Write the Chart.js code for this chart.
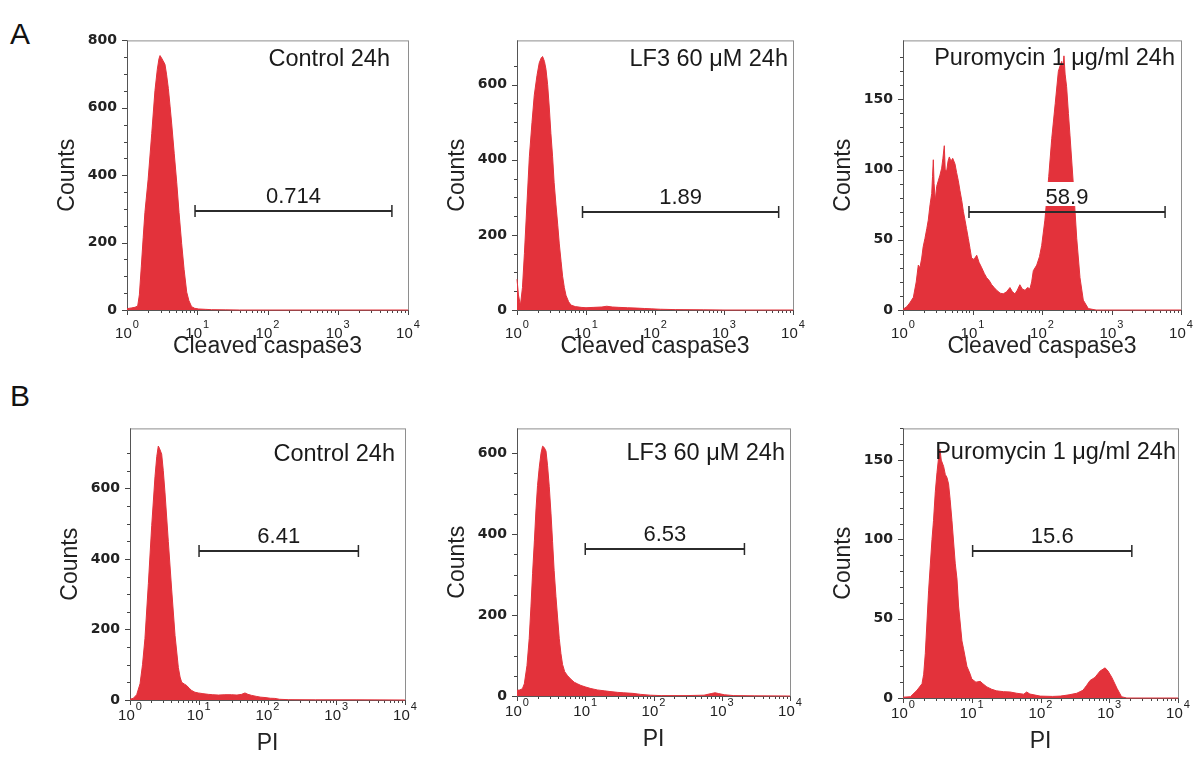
<!DOCTYPE html>
<html>
<head>
<meta charset="utf-8">
<script src="https://cdn.jsdelivr.net/npm/chart.js@4.4.1/dist/chart.umd.min.js"></script>
<style>
  html, body { margin: 0; padding: 0; background: #fff; }
  #fig { position: relative; width: 1203px; height: 758px; overflow: hidden; background: #fff; }
  #fig canvas { position: absolute; }
  .tag { position: absolute; font: 30px 'Liberation Sans', Arial, sans-serif; line-height: 30px; color: #111; }
</style>
</head>
<body>
<div id="fig">
  <div class="tag" style="left:10px;top:19px">A</div>
  <div class="tag" style="left:10px;top:381px">B</div>
</div>
<script>
// ---- Histogram data: fluorescence channel (log axis) and event counts ----

// A: cleaved caspase3, control 24h
const ctlCasChannels = [1, 1.15, 1.3, 1.42, 1.5, 1.6, 1.7, 1.8, 2.0, 2.25, 2.5, 2.7, 2.85, 2.95, 3.1, 3.25, 3.47, 3.65, 3.88, 4.1, 4.33, 4.7, 5.1, 5.5, 6.0, 6.5, 7.08, 7.6, 8.3, 9.2, 10.5, 13, 16, 25, 40, 10000];
const ctlCasCounts   = [4, 6, 8, 12, 45, 130, 215, 290, 388, 524, 651, 714, 745, 755, 748, 740, 729, 700, 657, 605, 552, 465, 379, 290, 197, 120, 53, 28, 10, 5, 3, 2, 1, 0.5, 0, 0];

// A: cleaved caspase3, LF3 60 uM 24h
const lf3CasChannels = [1, 1.05, 1.12, 1.2, 1.28, 1.4, 1.51, 1.65, 1.78, 1.95, 2.1, 2.25, 2.35, 2.5, 2.63, 2.78, 2.94, 3.1, 3.28, 3.45, 3.67, 3.9, 4.1, 4.35, 4.58, 4.85, 5.13, 5.6, 6.06, 7, 8.5, 10, 13, 17, 20, 24, 30, 40, 55, 70, 90, 120, 200, 500, 1000, 10000];
const lf3CasCounts   = [82, 40, 12, 60, 150, 290, 408, 500, 572, 625, 658, 672, 675, 662, 641, 600, 538, 470, 408, 340, 280, 225, 176, 130, 90, 60, 39, 22, 13, 9, 7, 6, 7, 8, 10, 8, 7, 6, 5, 4, 3, 2, 1, 0.5, 0, 0];

// A: cleaved caspase3, puromycin 1 ug/ml 24h
const puroCasChannels = [1, 1.13, 1.25, 1.41, 1.55, 1.66, 1.75, 1.86, 1.95, 2.07, 2.2, 2.31, 2.45, 2.59, 2.66, 2.73, 2.8, 2.92, 3.05, 3.22, 3.4, 3.6, 3.75, 3.93, 4.05, 4.25, 4.45, 4.64, 4.9, 5.19, 5.6, 5.9, 6.25, 6.6, 7.0, 7.4, 7.8, 8.2, 8.7, 9.2, 9.7, 10.5, 11.5, 12.4, 13.6, 14.8, 16, 17.4, 18.9, 20.5, 22.3, 25, 27.7, 31, 34.6, 37.5, 40.8, 44, 48, 52, 57, 62, 67, 71, 75, 84, 92, 99, 110, 125, 138, 155, 172, 185, 192, 200, 207, 215, 226, 240, 253, 282, 316, 352, 393, 464, 600, 10000];
const puroCasCounts   = [0.5, 2.3, 5, 9, 20, 32, 30, 37, 45, 51, 58, 64, 75, 83, 95, 107, 90, 78, 88, 92, 96, 101, 108, 117, 100, 99, 106, 109, 106, 108, 104, 98, 92, 85, 78, 70, 64, 58, 51, 44, 37, 36, 39, 34, 30, 26, 23, 21, 18, 16, 14, 12, 11.5, 13, 16, 13, 11.5, 14, 18, 15, 14, 16, 15, 20, 28, 32, 38, 46, 64, 95, 122, 147, 170, 175, 177, 172, 181, 168, 159, 140, 124, 90, 51, 23, 7, 1, 0, 0];

// B: PI, control 24h
const ctlPiChannels = [1, 1.12, 1.25, 1.4, 1.52, 1.65, 1.85, 2.07, 2.31, 2.45, 2.58, 2.7, 2.89, 3.05, 3.23, 3.61, 4.04, 4.52, 5.05, 5.35, 5.65, 6.2, 6.68, 7.3, 7.89, 8.8, 9.86, 11.5, 13.8, 16, 19.3, 24, 30, 36, 42, 47, 52, 59, 70, 80, 92, 110, 128, 150, 200, 500, 2000, 10000];
const ctlPiCounts   = [2, 5, 15, 46, 100, 174, 330, 495, 633, 690, 720, 712, 697, 650, 587, 449, 312, 183, 92, 65, 50, 45, 41, 33, 27, 22, 20, 18, 16, 15, 14, 15, 15, 14, 16, 20, 16, 13, 10, 8, 7, 5, 4.5, 2, 1, 0.5, 0.5, 0];

// B: PI, LF3 60 uM 24h
const lf3PiChannels = [1, 1.1, 1.2, 1.28, 1.4, 1.51, 1.6, 1.69, 1.8, 1.9, 2.0, 2.12, 2.25, 2.37, 2.5, 2.66, 2.8, 2.97, 3.15, 3.32, 3.5, 3.72, 3.95, 4.16, 4.4, 4.65, 5.0, 5.51, 6.2, 6.9, 7.7, 8.65, 10.2, 12.1, 15, 19, 23, 29.7, 36, 50, 65, 90, 130, 300, 550, 700, 800, 900, 1100, 1500, 3000, 10000];
const lf3PiCounts   = [14, 15, 18, 30, 75, 142, 220, 302, 385, 462, 520, 565, 600, 617, 614, 605, 570, 517, 450, 381, 310, 246, 190, 142, 105, 78, 60, 50, 41, 34, 30, 26, 22, 18.4, 15, 12.8, 11, 9, 8, 6.5, 4, 2, 1, 1, 2, 6, 8, 6, 3, 1, 0.5, 0];

// B: PI, puromycin 1 ug/ml 24h
const puroPiChannels = [1, 1.28, 1.6, 1.89, 2.0, 2.11, 2.36, 2.64, 2.78, 2.95, 3.12, 3.3, 3.45, 3.6, 3.9, 4.12, 4.36, 4.6, 4.85, 5.15, 5.75, 6.1, 6.43, 7.2, 7.6, 8.5, 9.5, 10, 11.5, 13.3, 14.5, 16.6, 19.5, 23, 29, 36, 45, 57, 63, 70, 99, 150, 194, 260, 337, 415, 470, 525, 620, 736, 870, 960, 1090, 1300, 1510, 1800, 10000];
const puroPiCounts   = [0.5, 0.8, 4.9, 9, 15, 28, 68, 100, 112, 130, 142, 152, 157, 150, 146, 141, 139, 135, 125, 112, 85, 75, 58, 36, 31, 20, 15, 12, 10, 10.5, 9, 7, 5.5, 4.5, 4, 3.8, 3, 2.4, 3.8, 2.5, 1.2, 1, 1.2, 2, 3, 4.9, 8, 11, 13, 17, 19, 17, 13, 6, 0.8, 0, 0];

// Panel text, axis ranges and gate (marker) settings
const panelTitles  = ['Control 24h', 'LF3 60 \u03bcM 24h', 'Puromycin 1 \u03bcg/ml 24h', 'Control 24h', 'LF3 60 \u03bcM 24h', 'Puromycin 1 \u03bcg/ml 24h'];
const xAxisTitles  = ['Cleaved caspase3', 'Cleaved caspase3', 'Cleaved caspase3', 'PI', 'PI', 'PI'];
const countMax     = [800, 718, 192, 770, 661, 170];
const majorStep    = [200, 200, 50, 200, 200, 50];
const minorStep    = [50, 50, 10, 50, 50, 10];
const gatePercents = ['0.714', '1.89', '58.9', '6.41', '6.53', '15.6'];
const gateLow      = [9.3, 8.9, 8.9, 10.1, 10, 10.3];
const gateHigh     = [5900, 6200, 5900, 2100, 2150, 2130];
const gateLevel    = [293, 262, 70, 422, 364, 93];
const decadeTicks  = [1, 10, 100, 1000, 10000];
const decadeExps   = ['0', '1', '2', '3', '4'];

const channelSets = [ctlCasChannels, lf3CasChannels, puroCasChannels, ctlPiChannels, lf3PiChannels, puroPiChannels];
const countSets   = [ctlCasCounts, lf3CasCounts, puroCasCounts, ctlPiCounts, lf3PiCounts, puroPiCounts];

// ---- Layout: plot frame of each panel on the page ----
const frames = [
  { l: 127, t: 32,  r: 408,  b: 310, axisH: 50, titleInset: 18, titleDrop: 26, labelDrop: 28 },
  { l: 517, t: 32,  r: 793,  b: 310, axisH: 50, titleInset: 5,  titleDrop: 26, labelDrop: 28 },
  { l: 903, t: 32,  r: 1181, b: 310, axisH: 50, titleInset: 6,  titleDrop: 25, labelDrop: 28 },
  { l: 130, t: 420, r: 405,  b: 700, axisH: 57, titleInset: 10, titleDrop: 33, labelDrop: 20 },
  { l: 517, t: 420, r: 790,  b: 696, axisH: 57, titleInset: 5,  titleDrop: 32, labelDrop: 20 },
  { l: 903, t: 420, r: 1178, b: 698, axisH: 57, titleInset: 2,  titleDrop: 31, labelDrop: 20 }
];

const RED = '#e3323b';
const FONT = "'Liberation Sans', Arial, sans-serif";
const LEFT_PAD = 6, Y_AXIS_W = 74, TOP_PAD = 10, RIGHT_PAD = 14;

Chart.defaults.font.family = FONT;

const toPoints = (xs, ys) => xs.map((x, k) => ({ x: x, y: ys[k] }));

function overlay(i) {
  const f = frames[i];
  return {
    id: 'cytoOverlay' + i,
    beforeDatasetsDraw(chart) {
      const { ctx, chartArea: a, scales } = chart;
      const xs = scales.x, ys = scales.y;
      ctx.save();
      // tick marks
      ctx.strokeStyle = '#444';
      ctx.lineWidth = 1;
      ctx.beginPath();
      xs.ticks.forEach(t => {
        const e = Math.floor(Math.log10(t.value) + 1e-9);
        const sig = t.value / Math.pow(10, e);
        if (Math.abs(sig - Math.round(sig)) > 1e-6) return;
        const major = Math.abs(sig - 1) < 1e-6;
        const px = Math.round(xs.getPixelForValue(t.value)) + 0.5;
        ctx.moveTo(px, a.bottom);
        ctx.lineTo(px, a.bottom + (major ? 5 : 3));
      });
      ys.ticks.forEach(t => {
        if (t.value % minorStep[i] !== 0) return;
        const major = t.value % majorStep[i] === 0;
        const py = Math.round(ys.getPixelForValue(t.value)) + 0.5;
        ctx.moveTo(a.left, py);
        ctx.lineTo(a.left - (major ? 5 : 3), py);
      });
      ctx.stroke();
      // plot frame
      ctx.strokeStyle = '#8e8e8e';
      ctx.strokeRect(a.left + 0.5, a.top + 0.5, a.right - a.left, a.bottom - a.top);
      ctx.strokeStyle = '#555';
      ctx.beginPath();
      ctx.moveTo(a.left + 0.5, a.top);
      ctx.lineTo(a.left + 0.5, a.bottom + 0.5);
      ctx.lineTo(a.right + 1, a.bottom + 0.5);
      ctx.stroke();
      ctx.restore();
    },
    afterDatasetsDraw(chart) {
      const { ctx, chartArea: a, scales } = chart;
      const xs = scales.x, ys = scales.y;
      ctx.save();
      // gate marker with its percentage
      const x1 = xs.getPixelForValue(gateLow[i]);
      const x2 = xs.getPixelForValue(gateHigh[i]);
      const gy = Math.round(ys.getPixelForValue(gateLevel[i]));
      const mid = (x1 + x2) / 2;
      const base = gy - 8;
      ctx.font = '22px ' + FONT;
      const tw = ctx.measureText(gatePercents[i]).width;
      ctx.fillStyle = '#fff';
      ctx.fillRect(mid - tw / 2 - 3, base - 22, tw + 6, 24);
      ctx.strokeStyle = '#2b2b2b';
      ctx.lineWidth = 2;
      ctx.beginPath();
      ctx.moveTo(x1, gy);
      ctx.lineTo(x2, gy);
      ctx.stroke();
      ctx.lineWidth = 1.5;
      ctx.beginPath();
      ctx.moveTo(x1, gy - 6); ctx.lineTo(x1, gy + 6);
      ctx.moveTo(x2, gy - 6); ctx.lineTo(x2, gy + 6);
      ctx.stroke();
      ctx.fillStyle = '#1a1a1a';
      ctx.textAlign = 'center';
      ctx.textBaseline = 'alphabetic';
      ctx.fillText(gatePercents[i], mid, base);
      // panel title
      ctx.font = '23.5px ' + FONT;
      ctx.textAlign = 'right';
      ctx.fillText(panelTitles[i], a.right - f.titleInset, a.top + f.titleDrop);
      // decade labels 10^n
      ctx.fillStyle = '#222';
      ctx.textAlign = 'left';
      decadeTicks.forEach((v, k) => {
        const px = xs.getPixelForValue(v);
        ctx.font = '15px ' + FONT;
        const wb = ctx.measureText('10').width;
        ctx.font = '11px ' + FONT;
        const we = ctx.measureText(decadeExps[k]).width;
        const start = px - (wb + we + 1) / 2;
        const yb = a.bottom + f.labelDrop;
        ctx.font = '15px ' + FONT;
        ctx.fillText('10', start, yb);
        ctx.font = '11px ' + FONT;
        ctx.fillText(decadeExps[k], start + wb + 1, yb - 10);
      });
      ctx.restore();
    }
  };
}

const fig = document.getElementById('fig');

frames.forEach((f, i) => {
  const cv = document.createElement('canvas');
  const W = (f.r - f.l) + LEFT_PAD + Y_AXIS_W + RIGHT_PAD;
  const H = (f.b - f.t) + TOP_PAD + f.axisH;
  cv.width = W; cv.height = H;
  cv.style.width = W + 'px'; cv.style.height = H + 'px';
  cv.style.left = (f.l - LEFT_PAD - Y_AXIS_W) + 'px';
  cv.style.top = (f.t - TOP_PAD) + 'px';
  fig.appendChild(cv);

  new Chart(cv, {
    type: 'line',
    data: {
      datasets: [{
        data: toPoints(channelSets[i], countSets[i]),
        borderColor: RED,
        backgroundColor: RED,
        borderWidth: 1,
        pointRadius: 0,
        tension: 0,
        fill: 'origin',
        clip: 4
      }]
    },
    options: {
      responsive: false,
      devicePixelRatio: 1,
      animation: false,
      events: [],
      layout: { padding: { left: LEFT_PAD, right: RIGHT_PAD, top: TOP_PAD, bottom: 0 } },
      plugins: { legend: { display: false }, tooltip: { enabled: false } },
      scales: {
        x: {
          type: 'logarithmic',
          min: 1,
          max: 10000,
          grid: { display: false, drawTicks: false },
          border: { display: false },
          ticks: { display: false },
          title: {
            display: true,
            text: xAxisTitles[i],
            color: '#222',
            font: { size: 23, family: FONT },
            padding: { top: 0, bottom: 0 }
          },
          afterFit: s => { s.height = f.axisH; }
        },
        y: {
          type: 'linear',
          min: 0,
          max: countMax[i],
          grid: { display: false, drawTicks: false },
          border: { display: false },
          ticks: {
            stepSize: minorStep[i],
            maxTicksLimit: 1000,
            autoSkip: false,
            padding: 10,
            color: '#222',
            font: { size: 14, weight: 'bold', family: "'DejaVu Sans', sans-serif" },
            callback: v => (v % majorStep[i] === 0 ? String(v) : '')
          },
          title: {
            display: true,
            text: 'Counts',
            color: '#222',
            font: { size: 23, family: FONT },
            padding: { top: 1, bottom: 0 }
          },
          afterFit: s => { s.width = Y_AXIS_W; }
        }
      }
    },
    plugins: [overlay(i)]
  });
});
</script>
</body>
</html>
